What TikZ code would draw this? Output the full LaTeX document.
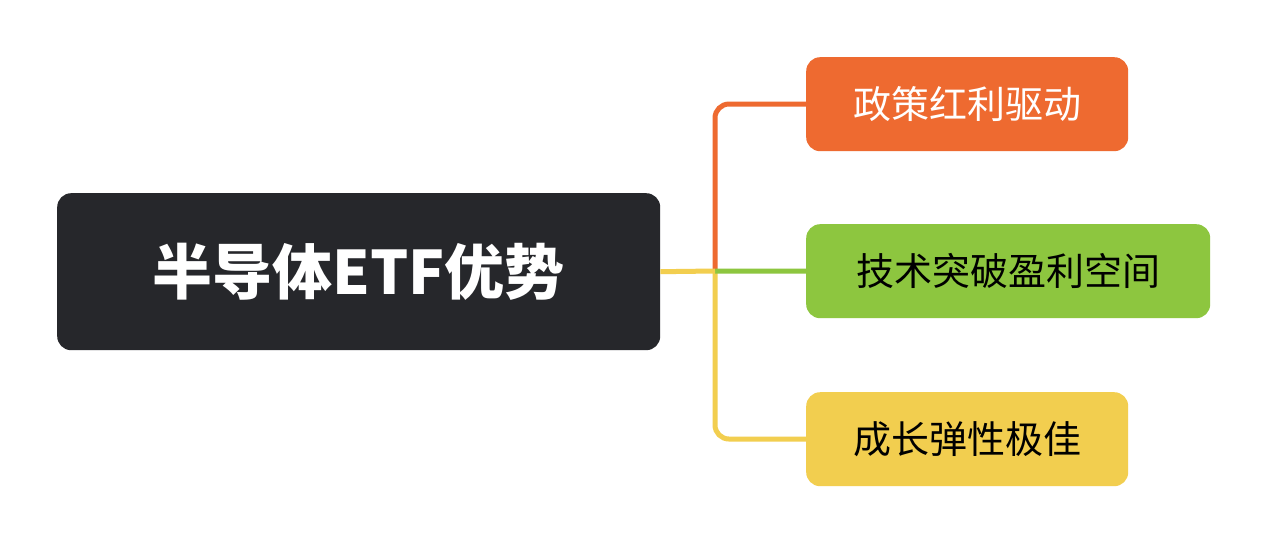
\documentclass[tikz,border=0pt]{standalone}
\usepackage{fontspec}
\setmainfont{Noto Sans CJK SC}
\definecolor{rootc}{HTML}{26272B}
\definecolor{orc}{HTML}{EE6A30}
\definecolor{grc}{HTML}{8DC63F}
\definecolor{yec}{HTML}{F2CE4F}
\begin{document}
\begin{tikzpicture}[x=1pt,y=-1pt,
  box/.style={rounded corners=14pt,inner sep=0pt,anchor=north west},
  link/.style={line width=5pt,rounded corners=14pt}]
\useasboundingbox (0,0) rectangle (1266,543);
\fill[white] (0,0) rectangle (1266,543);
\node[box,fill=rootc,minimum width=603pt,minimum height=157pt] (root) at (57,193) {};
\node[text=white,font=\fontsize{60}{60}\selectfont\bfseries] at (root.center) {半导体ETF优势};
\node[box,fill=orc,minimum width=322pt,minimum height=94pt] (a) at (806,57) {};
\node[text=white,font=\fontsize{38}{38}\selectfont] at (a.center) {政策红利驱动};
\node[box,fill=grc,minimum width=404pt,minimum height=94pt] (b) at (806,224) {};
\node[text=black,font=\fontsize{38}{38}\selectfont] at (b.center) {技术突破盈利空间};
\node[box,fill=yec,minimum width=322pt,minimum height=94pt] (c) at (806,392) {};
\node[text=black,font=\fontsize{38}{38}\selectfont] at (c.center) {成长弹性极佳};
\coordinate (j) at (715,271);
\draw[link,orc] (j) -- (715,104) -- (a.west);
\draw[link,yec] (j) -- (715,439) -- (c.west);
\draw[link,grc] (j) -- (b.west);
\draw[link,yec] (root.east) -- (j);
\end{tikzpicture}
\end{document}
